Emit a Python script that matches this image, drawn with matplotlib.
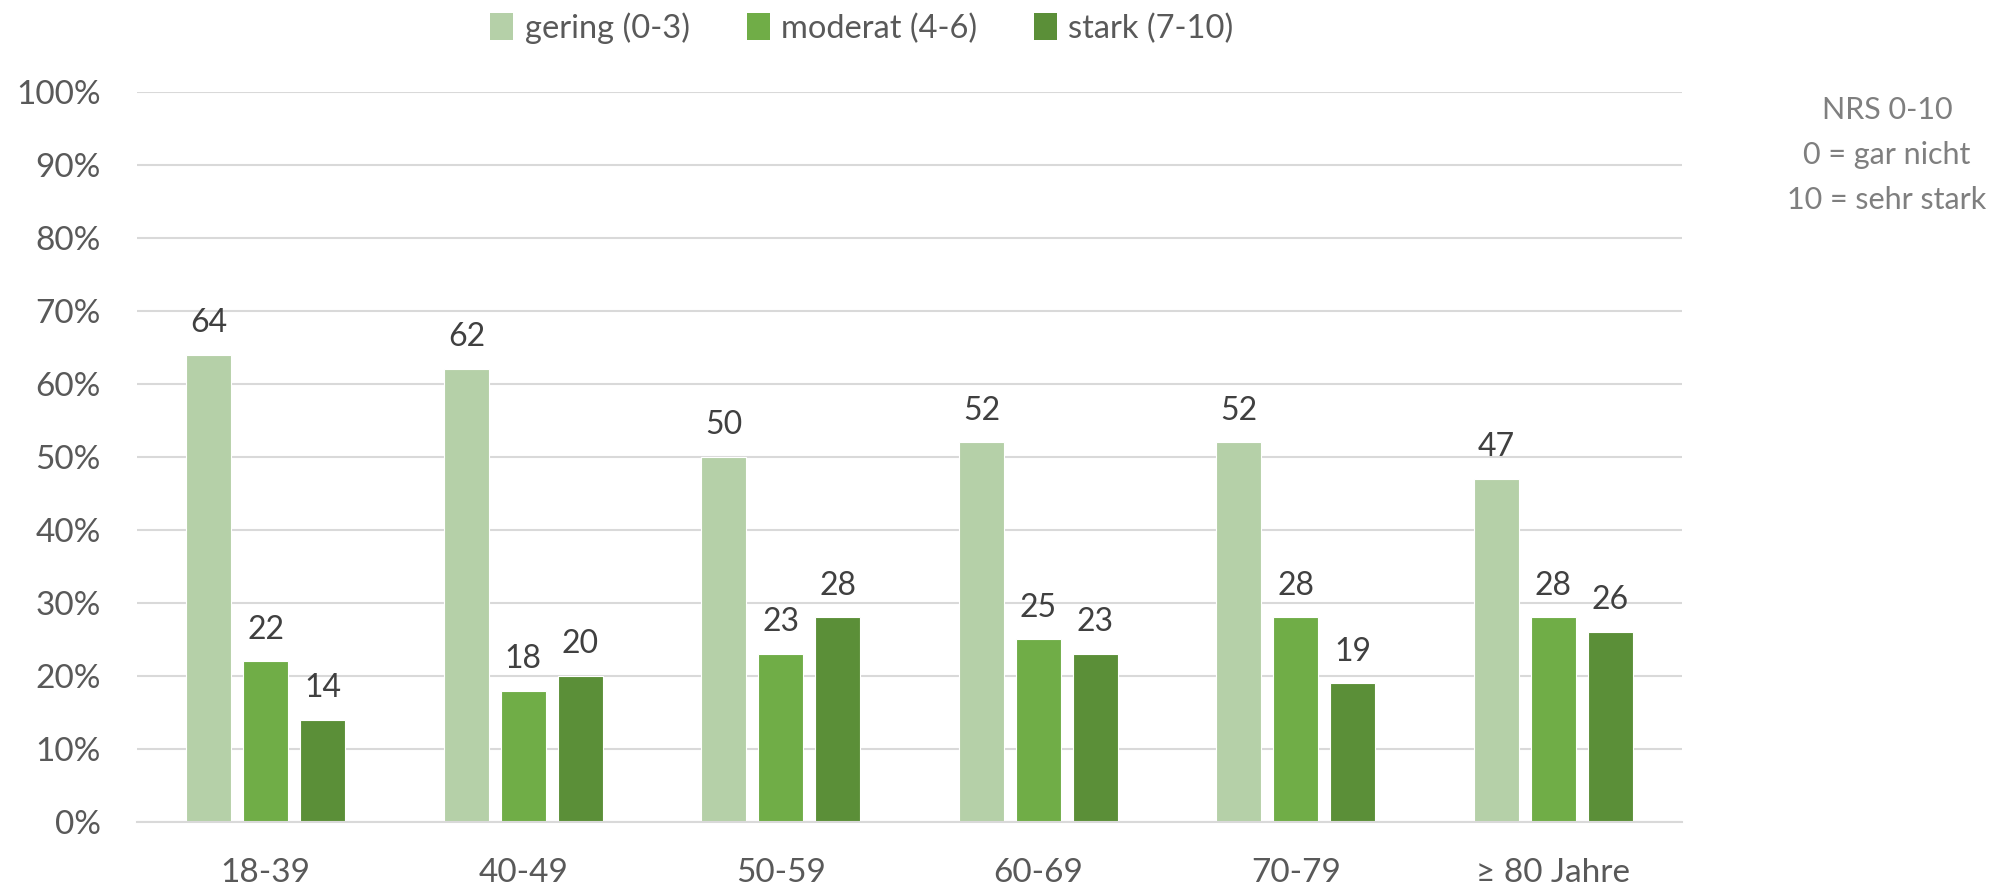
import matplotlib
matplotlib.use("Agg")
import matplotlib.pyplot as plt
import numpy as np
from matplotlib.patches import Patch

plt.rcParams['font.family'] = ['Lato', 'DejaVu Sans']

categories = ["18-39", "40-49", "50-59", "60-69", "70-79", "\u2265 80 Jahre"]
series_names = ["gering (0-3)", "moderat (4-6)", "stark (7-10)"]
gering = [64, 62, 50, 52, 52, 47]
moderat = [22, 18, 23, 25, 28, 28]
stark = [14, 20, 28, 23, 19, 26]
colors = ["#B5D0A8", "#70AD47", "#5B8F38"]
yticks = [0, 10, 20, 30, 40, 50, 60, 70, 80, 90, 100]
note_lines = ["NRS 0-10", "0 = gar nicht", "10 = sehr stark"]

fig = plt.figure(figsize=(19.95, 8.86), dpi=100)
ax = fig.add_axes([137/1995, 1-822/886, (1682-137)/1995, (822-91.6)/886])

x = np.arange(len(categories))
width = 0.175
offset = 0.221
text_col = "#595959"
for i, (vals, col) in enumerate(zip([gering, moderat, stark], colors)):
    bars = ax.bar(x + (i-1)*offset, vals, width, color=col, edgecolor="white",
                  linewidth=0.8, zorder=3)
    for b, v in zip(bars, vals):
        ax.annotate(str(v), (b.get_x()+b.get_width()/2, v), xytext=(0, 12),
                    textcoords="offset points", ha="center", va="bottom",
                    fontsize=23, color="#404040")

ax.set_xlim(-0.5, len(categories)-0.5)
ax.set_ylim(0, 100)
ax.set_yticks(yticks)
ax.set_yticklabels([f"{t}%" for t in yticks])
ax.set_xticks(x)
ax.set_xticklabels(categories)
ax.tick_params(axis='y', length=0, pad=26, labelsize=24, labelcolor=text_col)
ax.tick_params(axis='x', length=0, pad=26, labelsize=24, labelcolor=text_col)
ax.grid(axis='y', color="#D9D9D9", linewidth=1.5, zorder=0)
for s in ["top", "right", "left"]:
    ax.spines[s].set_visible(False)
ax.spines["bottom"].set_color("#D9D9D9")
ax.spines["bottom"].set_linewidth(1.5)
ax.spines["bottom"].set_zorder(4)

handles = [Patch(facecolor=c, edgecolor="none") for c in colors]
fig.legend(handles, series_names, loc="center", bbox_to_anchor=(862/1995, 1-28/886),
           ncol=3, frameon=False, fontsize=23.5, labelcolor=text_col,
           handlelength=0.7, handleheight=0.9, handletextpad=0.35, columnspacing=1.75)

fig.text(1887/1995, 1-155/886, "\n".join(note_lines), ha="center", va="center",
         fontsize=22, color="#7F7F7F", linespacing=1.72)

fig.savefig("out.png", dpi=100)
